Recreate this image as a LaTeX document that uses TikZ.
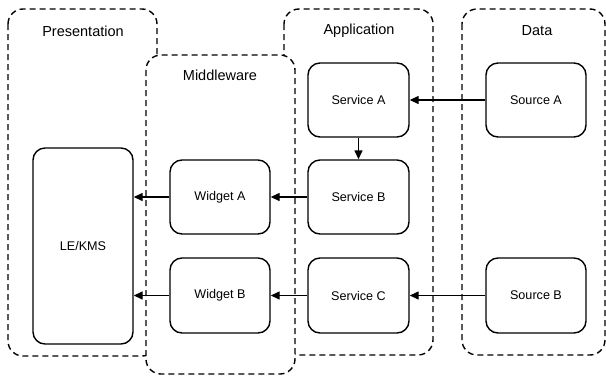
\documentclass[tikz,border=0pt]{standalone}
\usepackage{fontspec}
\setmainfont{Liberation Sans}
\usetikzlibrary{arrows.meta}
\begin{document}
\begin{tikzpicture}[x=1pt,y=-1pt,
  lane/.style={draw=black, fill=white, line width=1.4pt, dash pattern=on 6pt off 4pt, rounded corners=15pt},
  box/.style={draw=black, fill=white, line width=1.4pt, rounded corners=12pt, font=\fontsize{12.6}{14}\selectfont},
  ttl/.style={font=\fontsize{14.5}{16}\selectfont},
  conn/.style={line width=1.4pt, -{Triangle[length=9pt,width=8pt]}}]
\useasboundingbox (0,0) rectangle (606,376);
% containers
\draw[lane] (8,9) rectangle (157,356);
\draw[lane] (284,9) rectangle (433,355);
\draw[lane] (462,9) rectangle (605,355);
\draw[lane] (146,55) rectangle (295,374);
\node[ttl] (tp) at (83,31) {Presentation};
\node[ttl] (tm) at (220,75) {Middleware};
\node[ttl] (ta) at (359,31) {Application};
\node[ttl] (td) at (537,31) {Data};
% nodes
\node[box, minimum width=101pt, minimum height=74pt] (sa) at (358.5,100) {Service A};
\node[box, minimum width=101pt, minimum height=74pt] (sb) at (358.5,197) {Service B};
\node[box, minimum width=101pt, minimum height=75pt] (sc) at (358.5,295.5) {Service C};
\node[box, minimum width=100pt, minimum height=74pt] (soa) at (536,100) {Source A};
\node[box, minimum width=100pt, minimum height=75pt] (sob) at (536,295.5) {Source B};
\node[box, minimum width=100pt, minimum height=74pt] (wa) at (220,197) {Widget A};
\node[box, minimum width=100pt, minimum height=75pt] (wb) at (220,295.5) {Widget B};
\node[box, minimum width=100pt, minimum height=196pt] (le) at (83,246) {LE/KMS};
% connectors
\draw[conn] (soa.west) -- (sa.east);
\draw[conn] (sa.south) -- (sb.north);
\draw[conn] (sb.west) -- (wa.east);
\draw[conn] (wa.west) -- (wa.west -| le.east);
\draw[conn] (sob.west) -- (sc.east);
\draw[conn] (sc.west) -- (wb.east);
\draw[conn] (wb.west) -- (wb.west -| le.east);
\end{tikzpicture}
\end{document}
